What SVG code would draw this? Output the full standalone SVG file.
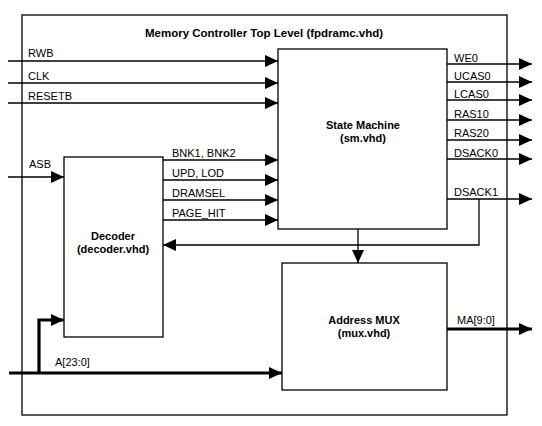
<svg xmlns="http://www.w3.org/2000/svg" width="542" height="426" viewBox="0 0 542 426">
<defs>
<marker id="ah" markerUnits="userSpaceOnUse" markerWidth="13" markerHeight="12" refX="13" refY="6" orient="auto">
<path d="M0,0 L13,6 L0,12 z" fill="#000"/>
</marker>
<style>
.box{fill:#fff;stroke:#000;stroke-width:1.3}
.w{fill:none;stroke:#000;stroke-width:1.3}
.b{fill:none;stroke:#000;stroke-width:3.2}
.a{marker-end:url(#ah)}
text{font-family:"Liberation Sans",Arial,Helvetica,sans-serif;font-size:11px;fill:#000}
.t{font-weight:bold;text-anchor:middle}
.h{font-size:11.5px}
</style>
</defs>
<rect width="542" height="426" fill="#fff"/>
<g id="top-level">
<rect class="box" x="22" y="15" width="485" height="400"/>
<text class="t h" x="264" y="37">Memory Controller Top Level (fpdramc.vhd)</text>
</g>
<g id="state-machine">
<rect class="box" x="278" y="49" width="169" height="180"/>
<text class="t" x="363" y="129">State Machine</text>
<text class="t" x="363" y="142">(sm.vhd)</text>
</g>
<g id="decoder">
<rect class="box" x="64" y="157" width="99" height="180"/>
<text class="t" x="113" y="240">Decoder</text>
<text class="t" x="113" y="253">(decoder.vhd)</text>
</g>
<g id="address-mux">
<rect class="box" x="282" y="263" width="165" height="127"/>
<text class="t" x="364" y="324">Address MUX</text>
<text class="t" x="364" y="337">(mux.vhd)</text>
</g>
<g id="connectors">
<path class="w a" d="M8,61 H278"/>
<path class="w a" d="M8,83 H278"/>
<path class="w a" d="M8,103 H278"/>
<path class="w a" d="M8,177 H64"/>
<path class="w a" d="M163,160 H278"/>
<path class="w a" d="M163,180 H278"/>
<path class="w a" d="M163,200 H278"/>
<path class="w a" d="M163,220 H278"/>
<path class="w a" d="M447,64 H532"/>
<path class="w a" d="M447,82 H532"/>
<path class="w a" d="M447,100 H532"/>
<path class="w a" d="M447,120 H532"/>
<path class="w a" d="M447,140 H532"/>
<path class="w a" d="M447,159 H532"/>
<path class="w a" d="M447,199 H532"/>
<path class="w a" d="M479,199 V245 H163"/>
<path class="w a" d="M358,229 V263"/>
<path class="b a" d="M447,329 H532"/>
<path class="b a" d="M9,373 H282"/>
<path class="b a" d="M39,373 V320 H64"/>
</g>
<g id="labels">
<text x="28" y="57">RWB</text>
<text x="28" y="80">CLK</text>
<text x="28" y="100">RESETB</text>
<text x="29" y="168">ASB</text>
<text x="172" y="157">BNK1, BNK2</text>
<text x="172" y="177">UPD, LOD</text>
<text x="172" y="197">DRAMSEL</text>
<text x="172" y="217">PAGE_HIT</text>
<text x="454" y="62">WE0</text>
<text x="454" y="80">UCAS0</text>
<text x="454" y="98">LCAS0</text>
<text x="454" y="118">RAS10</text>
<text x="454" y="137">RAS20</text>
<text x="454" y="157">DSACK0</text>
<text x="454" y="196">DSACK1</text>
<text x="457" y="324">MA[9:0]</text>
<text x="55" y="366">A[23:0]</text>
</g>
</svg>
